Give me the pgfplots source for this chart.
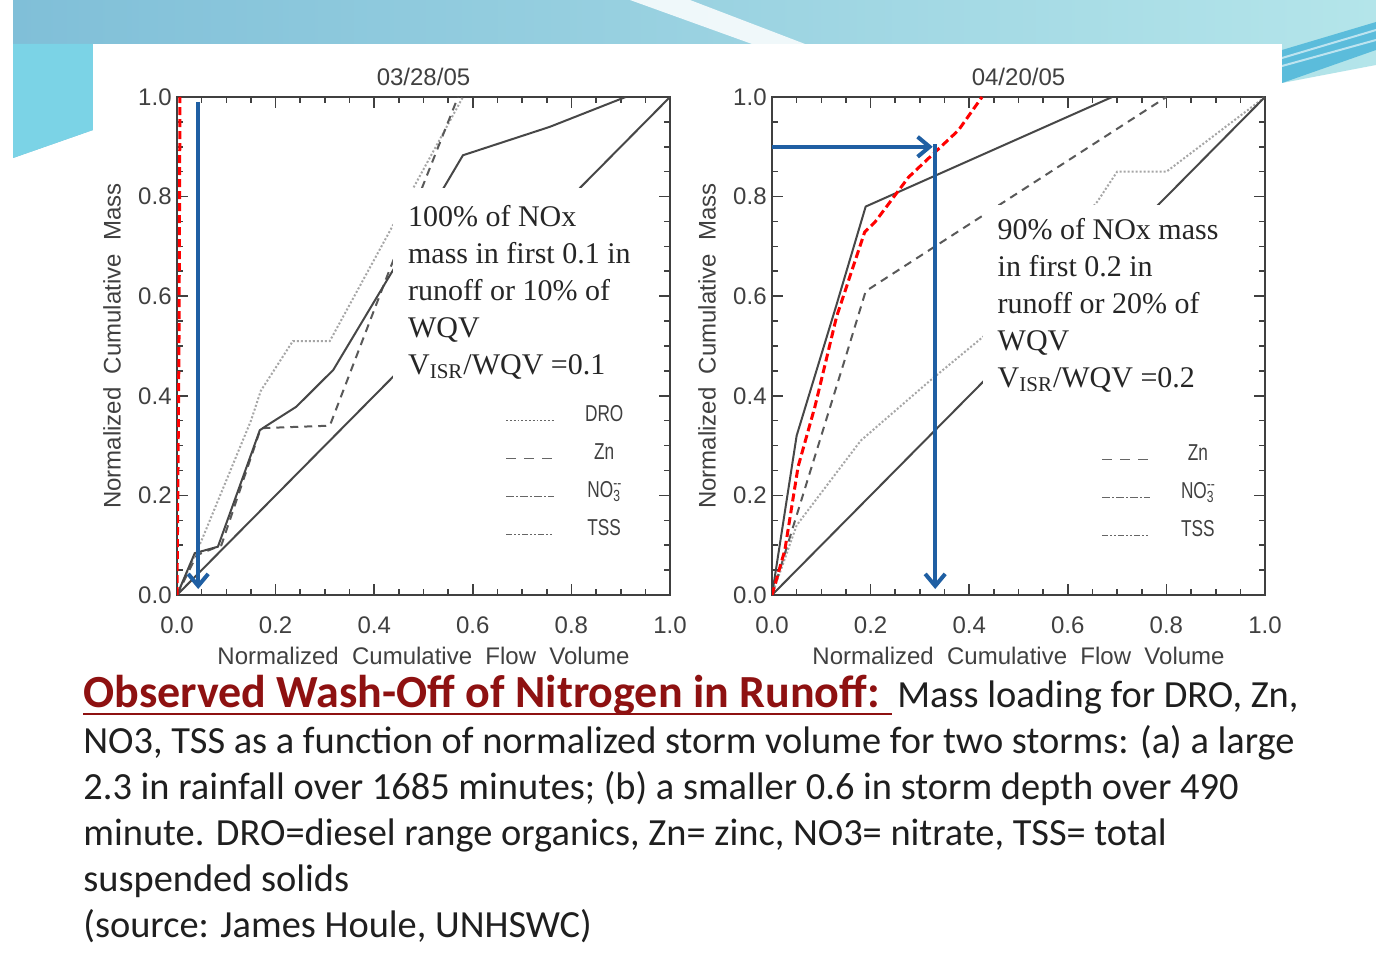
\documentclass[border=0pt]{standalone}
\usepackage{pgfplots}
\pgfplotsset{compat=1.18}
\usepackage{fontspec}
\usetikzlibrary{arrows.meta}
\setmainfont{Liberation Sans}
\newfontfamily\idl{Liberation Sans}
\newfontfamily\legf[FakeStretch=0.75]{Liberation Sans}
\newfontfamily\tnr{Liberation Serif}
\newfontfamily\calfont{Carlito}
\definecolor{lblue}{HTML}{1F5FA3}
\definecolor{capred}{HTML}{8E1111}
\definecolor{bandL}{HTML}{80BFD8}
\definecolor{bandR}{HTML}{B4E5EA}
\definecolor{cyanL}{HTML}{7BD3E6}
\definecolor{stripe}{HTML}{5BBCDB}
\pgfplotsset{
  idlax/.style={
    scale only axis, width=246.5pt, height=249pt,
    xmin=0, xmax=1, ymin=0, ymax=1,
    xtick={0,0.2,0.4,0.6,0.8,1}, ytick={0,0.2,0.4,0.6,0.8,1},
    minor tick num=3,
    tick align=inside, xtick pos=both, ytick pos=both,
    major tick length=5.5pt, minor tick length=2.8pt,
    axis line style={black!75, line width=1pt},
    every tick/.style={black!75, line width=0.8pt},
    tick label style={font=\idl\fontsize{12}{14}\selectfont, text=black!75},
    /pgf/number format/assume math mode=true,
    /pgf/number format/fixed, /pgf/number format/fixed zerofill, /pgf/number format/precision=1,
    xticklabel style={anchor=base, yshift=-19.25pt},
    yticklabel style={anchor=east, inner sep=0pt, xshift=-2.5pt},
    title style={font=\idl\fontsize{12}{14}\selectfont, text=black!75, at={(axis description cs:0.5,1)}, anchor=base, yshift=-0.25pt},
    xlabel style={font=\idl\fontsize{12}{14}\selectfont, text=black!75, at={(axis description cs:0.5,0)}, anchor=base, yshift=-34.5pt},
    ylabel style={font=\idl\fontsize{12}{14}\selectfont, text=black!75, at={([xshift=-28.25pt]axis description cs:0,0.5)}, anchor=base},
    xlabel={Normalized\ \ Cumulative\ \ Flow\ \ Volume},
    ylabel={Normalized\ \ Cumulative\ \ Mass},
    legend image code/.code={\draw[#1] (0pt,-3.5pt) -- (24pt,-3.5pt);},
    legend style={draw=none, fill=none, inner sep=0pt, font=\legf\fontsize{11.5}{13}\selectfont, text=black!75,
      nodes={inner sep=0pt, text height=8pt, text depth=0pt}, row sep=11pt,
      /tikz/every odd column/.append style={column sep=15pt}},
  },
  droS/.style={black!35, line width=1pt, densely dotted},
  znS/.style={black!65, line width=1pt, dash pattern=on 4pt off 3pt},
  noS/.style={black!72, line width=1pt},
  tssS/.style={black!72, line width=1pt},
  redS/.style={red, line width=1.5pt, dash pattern=on 4pt off 2pt},
  arrS/.style={lblue, line width=2pt, -{Straight Barb[length=6pt,width=10pt]}},
}
\begin{document}
\begin{tikzpicture}
\path[use as bounding box] (0,0) rectangle (688pt,488pt);
\begin{scope}[x=0.5pt, y=-0.5pt, yshift=488pt]
\fill[white] (0,0) rectangle (1376,976);
% slide decoration
\shade[left color=bandL, right color=bandR] (13,0) -- (1376,0) -- (1376,65) -- (1282,83) -- (1282,44) -- (93,44) -- (93,130) -- (13,158) -- cycle;
\fill[cyanL] (13,44) -- (93,44) -- (93,130) -- (13,158) -- cycle;
\fill[white, opacity=0.85] (630,0) -- (690,0) -- (805,44) -- (752,44) -- cycle;
\fill[stripe] (1282,50) -- (1376,22) -- (1376,50) -- (1282,83) -- cycle;
\draw[white, opacity=0.6, line width=1pt] (1282,58) -- (1376,30);
\draw[white, opacity=0.6, line width=1pt] (1282,66) -- (1376,40);
\fill[white] (93,44) rectangle (1282,670);
\end{scope}

% ---------------- left panel ----------------
\begin{axis}[idlax, at={(88.5pt,190.5pt)}, anchor=south west, title={03/28/05},
  legend style={at={(axis cs:0.665,0.3815)}, anchor=north west}]
\addlegendimage{black!60, line width=0.9pt, densely dotted}\addlegendentry{DRO}
\addlegendimage{black!60, line width=0.9pt, dash pattern=on 5pt off 4pt}\addlegendentry{Zn}
\addlegendimage{black!60, line width=0.9pt, dash pattern=on 4pt off 1pt on 1pt off 1pt}\addlegendentry{NO\rlap{\textsuperscript{--}}\textsubscript{3}}
\addlegendimage{black!60, line width=0.9pt, dash pattern=on 3pt off 1pt on 1pt off 1pt on 1pt off 1pt}\addlegendentry{TSS}
% DRO
\addplot[droS, forget plot] coordinates {(0,0) (0.05,0.11) (0.15,0.35) (0.17,0.41) (0.235,0.51) (0.31,0.51) (0.58,1.0)};
% Zn
\addplot[znS, forget plot] coordinates {(0,0) (0.04,0.08) (0.09,0.10) (0.17,0.335) (0.31,0.34) (0.43,0.65) (0.57,1.0)};
% NO3
\addplot[noS, forget plot] coordinates {(0,0) (0.036,0.084) (0.083,0.097) (0.168,0.331) (0.188,0.344) (0.242,0.378) (0.317,0.452) (0.438,0.652) (0.54,0.816) (0.58,0.883) (0.756,0.94) (0.91,1.0)};
% TSS
\addplot[tssS, forget plot] coordinates {(0,0) (1,1)};
% NOx highlight
\addplot[redS, forget plot] coordinates {(0,0) (0.004,0.5) (0.006,1.0)};
\fill[white] (axis cs:0.438,0.428) rectangle (axis cs:0.955,0.817);
\node[anchor=north west, align=left, inner sep=0pt, font=\tnr\fontsize{15}{18.5}\selectfont, text=black!85]
  at (axis cs:0.468,0.783) {100\% of NOx\\mass in first 0.1 in\\runoff or 10\% of\\WQV\\V\textsubscript{ISR}/WQV =0.1};
\addplot[arrS, forget plot] coordinates {(0.043,0.99) (0.043,0.012)};
\end{axis}

% ---------------- right panel ----------------
\begin{axis}[idlax, at={(386pt,190.5pt)}, anchor=south west, title={04/20/05},
  legend style={at={(axis cs:0.667,0.303)}, anchor=north west}]
\addlegendimage{black!60, line width=0.9pt, dash pattern=on 5pt off 4pt}\addlegendentry{Zn}
\addlegendimage{black!60, line width=0.9pt, dash pattern=on 4pt off 1pt on 1pt off 1pt}\addlegendentry{NO\rlap{\textsuperscript{--}}\textsubscript{3}}
\addlegendimage{black!60, line width=0.9pt, dash pattern=on 3pt off 1pt on 1pt off 1pt on 1pt off 1pt}\addlegendentry{TSS}
% DRO
\addplot[droS, forget plot] coordinates {(0,0) (0.05,0.14) (0.18,0.31) (0.32,0.43) (0.43,0.52) (0.66,0.79) (0.70,0.85) (0.80,0.85) (1.0,1.0)};
% Zn
\addplot[znS, forget plot] coordinates {(0,0) (0.05,0.16) (0.1,0.32) (0.15,0.48) (0.19,0.61) (0.8,1.0)};
% NO3
\addplot[noS, forget plot] coordinates {(0,0) (0.05,0.32) (0.13,0.58) (0.19,0.78) (0.69,1.0)};
% TSS
\addplot[tssS, forget plot] coordinates {(0,0) (1,1)};
% NOx highlight
\addplot[redS, forget plot] coordinates {(0,0) (0.026,0.09) (0.053,0.258) (0.087,0.378) (0.131,0.559) (0.188,0.729) (0.209,0.749) (0.277,0.839) (0.338,0.896) (0.378,0.933) (0.426,1.0)};
\fill[white] (axis cs:0.427,0.42) rectangle (axis cs:0.96,0.783);
\node[anchor=north west, align=left, inner sep=0pt, font=\tnr\fontsize{15}{18.5}\selectfont, text=black!85]
  at (axis cs:0.457,0.757) {90\% of NOx mass\\in first 0.2 in\\runoff or 20\% of\\WQV\\V\textsubscript{ISR}/WQV =0.2};
\addplot[arrS, forget plot] coordinates {(0,0.9) (0.326,0.9)};
\addplot[arrS, forget plot] coordinates {(0.331,0.905) (0.331,0.012)};
\end{axis}

% ---------------- caption ----------------
\begin{scope}[x=0.5pt, y=-0.5pt, yshift=488pt, every node/.style={anchor=base west, inner sep=0pt, font=\calfont\fontsize{19.2}{22}\selectfont, text=black!88}]
\node at (83,707) {{\color{capred}\fontsize{23}{26}\selectfont\bfseries Observed Wash-Off of Nitrogen in Runoff:}};
\draw[capred, line width=1.4pt] (83,714) -- (892,714);
\node at (897,707) {Mass loading for DRO, Zn,};
\node at (83,753) {NO3, TSS as a function of normalized storm volume for two storms: (a) a large};
\node at (83,799) {2.3 in rainfall over 1685 minutes; (b) a smaller 0.6 in storm depth over 490};
\node at (83,845) {minute. DRO=diesel range organics, Zn= zinc, NO3= nitrate, TSS= total};
\node at (83,891) {suspended solids};
\node at (83,937) {(source: James Houle, UNHSWC)};
\end{scope}
\end{tikzpicture}
\end{document}
